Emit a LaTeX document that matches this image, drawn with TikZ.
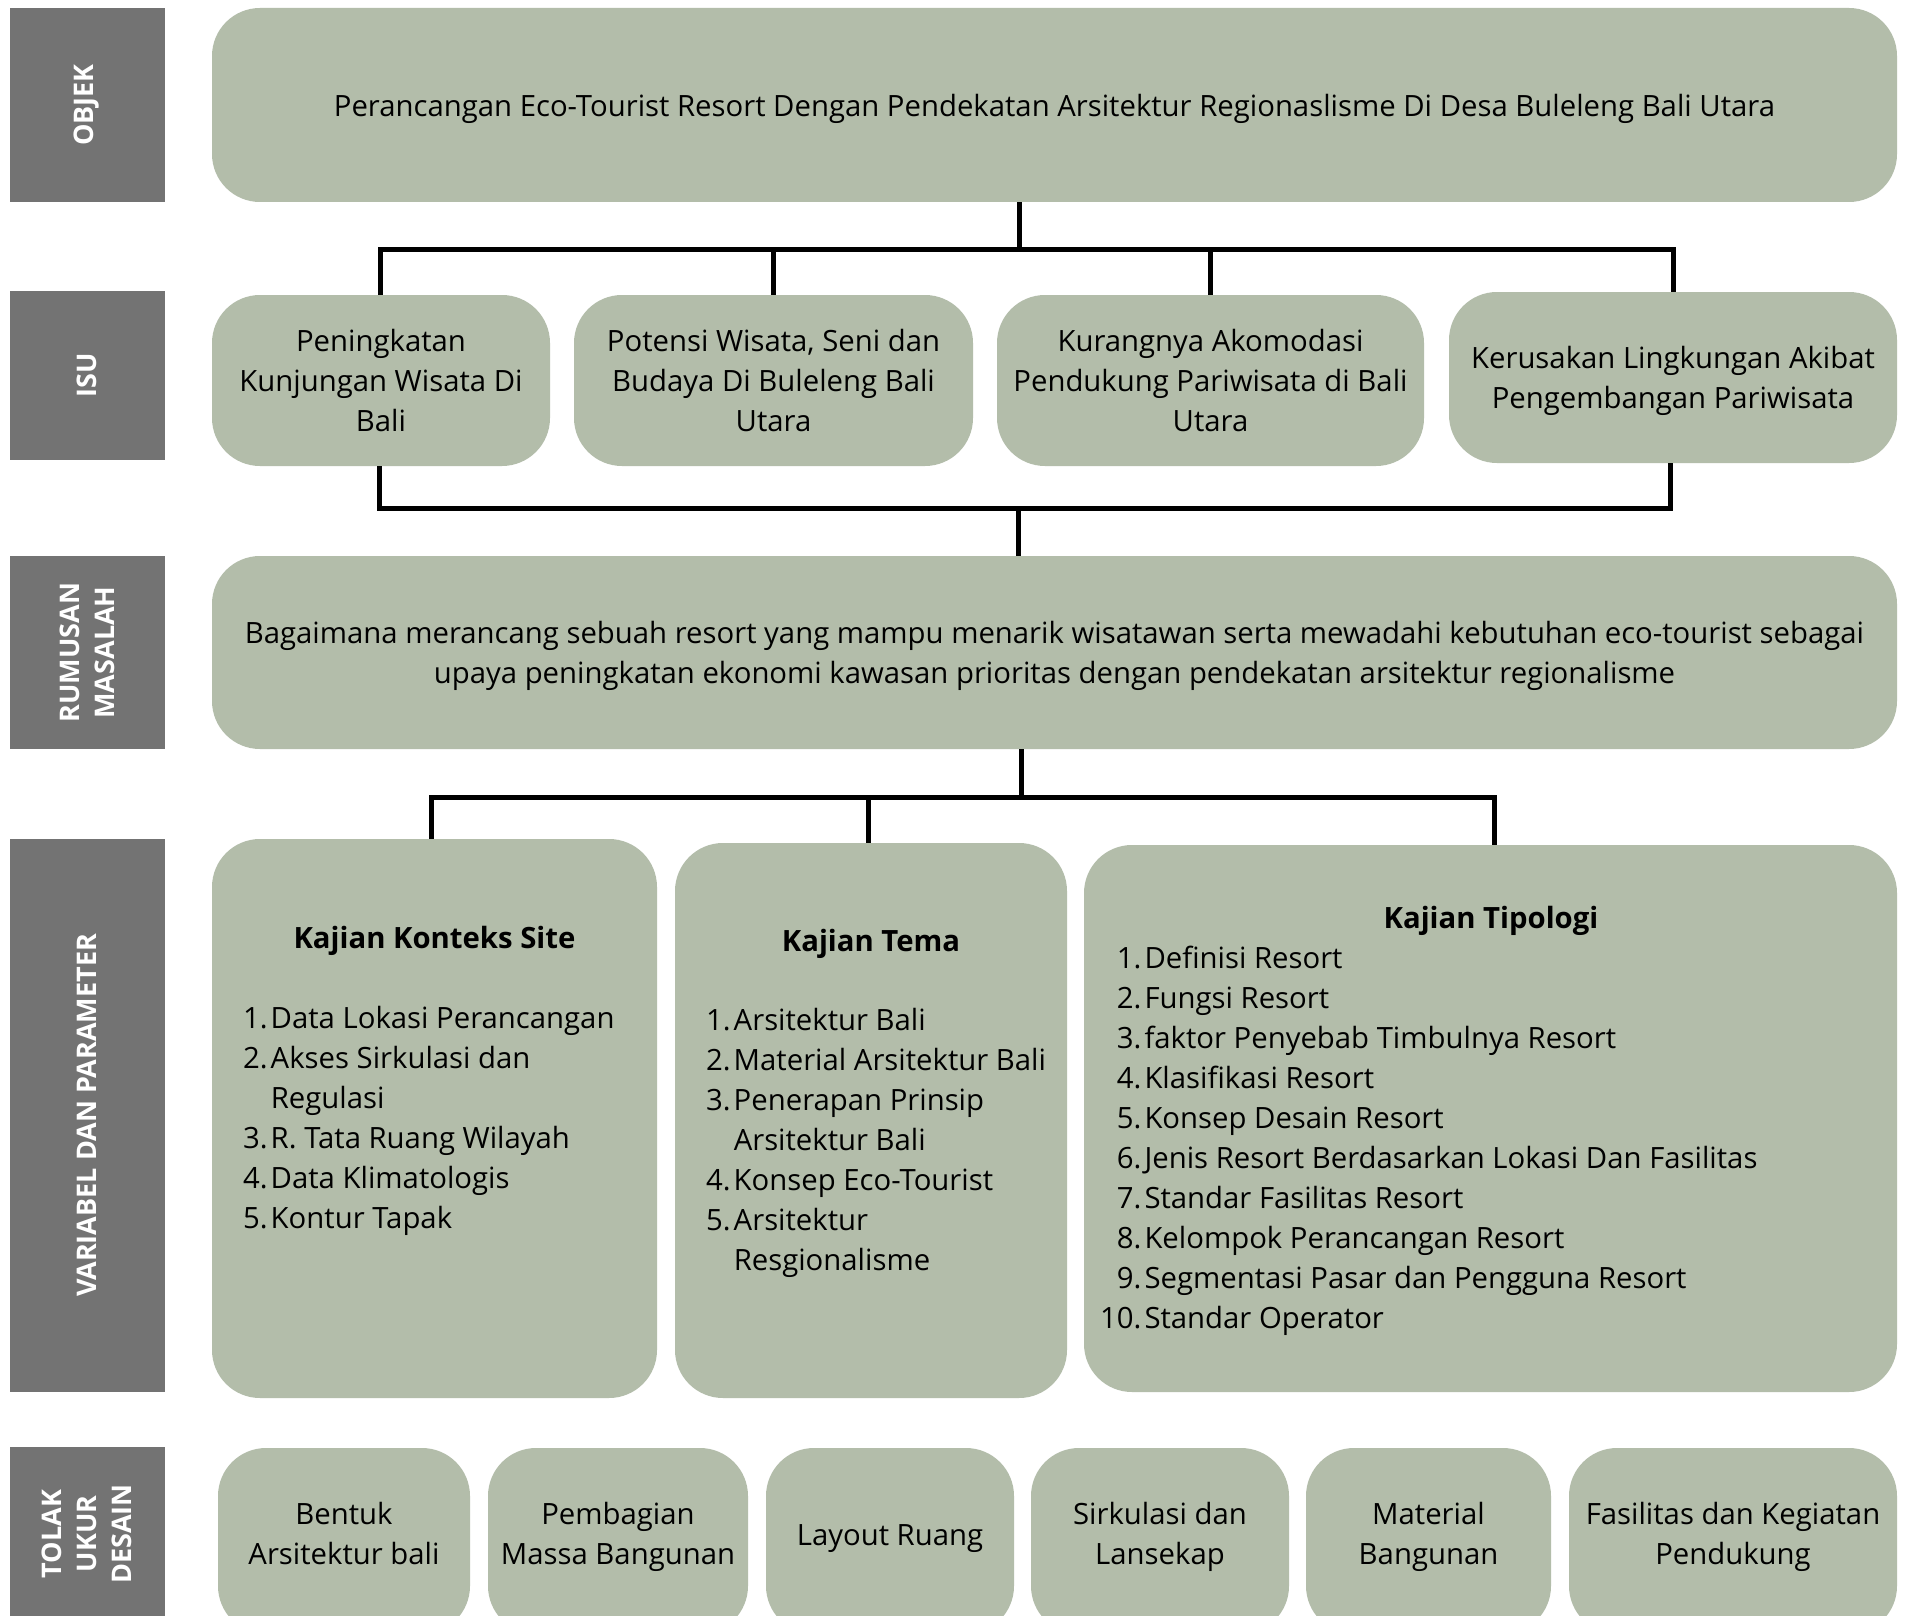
\documentclass[tikz,border=0pt]{standalone}
\usepackage{fontspec}
\setmainfont{Open Sans}
\definecolor{boxfill}{RGB}{179,189,170}
\definecolor{labfill}{RGB}{115,115,115}
\tikzset{
  box/.style={fill=boxfill, draw=none, rounded corners=48pt, inner sep=0pt, align=center,
    font=\fontsize{29.3}{40}\selectfont, text depth=0pt},
  lab/.style={fill=labfill, draw=none, inner sep=0pt},
  labtext/.style={text=white, rotate=90, align=center, inner sep=0pt,
    font=\fontsize{27}{35}\selectfont\bfseries},
  conn/.style={line width=5pt, draw=black},
  txt/.style={inner sep=0pt, align=center, font=\fontsize{29.3}{40}\selectfont, text depth=0pt},
  lst/.style={inner sep=0pt, font=\fontsize{29.3}{40}\selectfont},
  head/.style={inner sep=0pt, font=\fontsize{29.3}{40}\selectfont\bfseries},
}
\begin{document}
\begin{tikzpicture}[x=1pt,y=-1pt]
\useasboundingbox (0,0) rectangle (1923,1616);
\clip (0,0) rectangle (1923,1616);
\fill[white] (0,0) rectangle (1923,1616);

% left labels
\node[lab, minimum width=155pt, minimum height=194pt] (lobj) at (87,105) {};
\node[labtext] (tobj) at (lobj.center) {OBJEK};
\node[lab, minimum width=155pt, minimum height=169pt] (lisu) at (87,375.5) {};
\node[labtext] (tisu) at (lisu.center) {ISU};
\node[lab, minimum width=155pt, minimum height=193pt] (lrm) at (87,652.5) {};
\node[labtext] (trm) at (lrm.center) {RUMUSAN\\MASALAH};
\node[lab, minimum width=155pt, minimum height=553pt] (lvar) at (87,1115.5) {};
\node[labtext] (tvar) at (lvar.center) {VARIABEL DAN PARAMETER};
\node[lab, minimum width=155pt, minimum height=183pt] (ltu) at (87,1538.5) {};
\node[labtext] (ttu) at (87,1534) {TOLAK\\UKUR\\DESAIN};

% OBJEK
\node[box, minimum width=1685pt, minimum height=194pt] (obj) at (1054.5,105)
  {Perancangan Eco-Tourist Resort Dengan Pendekatan Arsitektur Regionaslisme Di Desa Buleleng Bali Utara};

% ISU
\node[box, minimum width=338pt, minimum height=171pt] (i1) at (381,380.5)
  {Peningkatan\\Kunjungan Wisata Di\\Bali};
\node[box, minimum width=399pt, minimum height=171pt] (i2) at (773.5,380.5)
  {Potensi Wisata, Seni dan\\Budaya Di Buleleng Bali\\Utara};
\node[box, minimum width=427pt, minimum height=171pt] (i3) at (1210.5,380.5)
  {Kurangnya Akomodasi\\Pendukung Pariwisata di Bali\\Utara};
\node[box, minimum width=448pt, minimum height=171pt] (i4) at (1673,377.5)
  {Kerusakan Lingkungan Akibat\\Pengembangan Pariwisata};

% RUMUSAN
\node[box, minimum width=1685pt, minimum height=193pt] (rm) at (1054.5,652.5)
  {Bagaimana merancang sebuah resort yang mampu menarik wisatawan serta mewadahi kebutuhan eco-tourist sebagai\\upaya peningkatan ekonomi kawasan prioritas dengan pendekatan arsitektur regionalisme};

% VARIABEL boxes
\node[box, minimum width=445pt, minimum height=559pt] (v1) at (434.5,1118.5) {};
\node[box, minimum width=392pt, minimum height=555pt] (v2) at (871,1120.5) {};
\node[box, minimum width=813pt, minimum height=547pt] (v3) at (1490.5,1118.5) {};

\node[head, anchor=base] (h1) at (434.5,948) {Kajian Konteks Site};
\node[lst, anchor=base west] (l1) at (243,1028) {\begin{tabular}[t]{@{}l@{\hspace{3pt}}l@{}}
1.&Data Lokasi Perancangan\\
2.&Akses Sirkulasi dan\\
&Regulasi\\
3.&R. Tata Ruang Wilayah\\
4.&Data Klimatologis\\
5.&Kontur Tapak
\end{tabular}};

\node[head, anchor=base] (h2) at (871,951) {Kajian Tema};
\node[lst, anchor=base west] (l2) at (706,1030) {\begin{tabular}[t]{@{}l@{\hspace{3pt}}l@{}}
1.&Arsitektur Bali\\
2.&Material Arsitektur Bali\\
3.&Penerapan Prinsip\\
&Arsitektur Bali\\
4.&Konsep Eco-Tourist\\
5.&Arsitektur\\
&Resgionalisme
\end{tabular}};

\node[head, anchor=base] (h3) at (1491,928) {Kajian Tipologi};
\node[lst, anchor=base west] (l3) at (1100,968) {\begin{tabular}[t]{@{}r@{\hspace{3pt}}l@{}}
1.&Definisi Resort\\
2.&Fungsi Resort\\
3.&faktor Penyebab Timbulnya Resort\\
4.&Klasifikasi Resort\\
5.&Konsep Desain Resort\\
6.&Jenis Resort Berdasarkan Lokasi Dan Fasilitas\\
7.&Standar Fasilitas Resort\\
8.&Kelompok Perancangan Resort\\
9.&Segmentasi Pasar dan Pengguna Resort\\
10.&Standar Operator
\end{tabular}};

% TOLAK UKUR boxes
\node[box, minimum width=252pt, minimum height=186pt] (d1) at (344,1541) {};
\node[box, minimum width=260pt, minimum height=186pt] (d2) at (618,1541) {};
\node[box, minimum width=248pt, minimum height=186pt] (d3) at (890,1541) {};
\node[box, minimum width=258pt, minimum height=186pt] (d4) at (1160,1541) {};
\node[box, minimum width=245pt, minimum height=186pt] (d5) at (1428.5,1541) {};
\node[box, minimum width=328pt, minimum height=186pt] (d6) at (1733,1541) {};
\node[txt] (e1) at (344,1533) {Bentuk\\Arsitektur bali};
\node[txt] (e2) at (618,1533) {Pembagian\\Massa Bangunan};
\node[txt] (e3) at (890,1535) {Layout Ruang};
\node[txt] (e4) at (1160,1533) {Sirkulasi dan\\Lansekap};
\node[txt] (e5) at (1428.5,1533) {Material\\Bangunan};
\node[txt] (e6) at (1733,1533) {Fasilitas dan Kegiatan\\Pendukung};

% connectors
\coordinate (j1) at (1019.5,250);
\coordinate (j2) at (1018,508);
\coordinate (j3) at (1021,797);
\draw[conn] (obj.south -| j1) -- (j1);
\draw[conn] ([xshift=-1pt]i1.north) -- ([xshift=-1pt]i1.north |- j1) -- (i4.north |- j1) -- (i4.north);
\draw[conn] (i2.north) -- (i2.north |- j1);
\draw[conn] (i3.north) -- (i3.north |- j1);
\draw[conn] ([xshift=-2pt]i1.south) -- ([xshift=-2pt]i1.south |- j2) -- ([xshift=-3pt]i4.south |- j2) -- ([xshift=-3pt]i4.south);
\draw[conn] (j2) -- (rm.north -| j2);
\draw[conn] (rm.south -| j3) -- (j3);
\draw[conn] ([xshift=-3pt]v1.north) -- ([xshift=-3pt]v1.north |- j3) -- ([xshift=3.5pt]v3.north |- j3) -- ([xshift=3.5pt]v3.north);
\draw[conn] ([xshift=-3pt]v2.north) -- ([xshift=-3pt]v2.north |- j3);
\end{tikzpicture}
\end{document}
